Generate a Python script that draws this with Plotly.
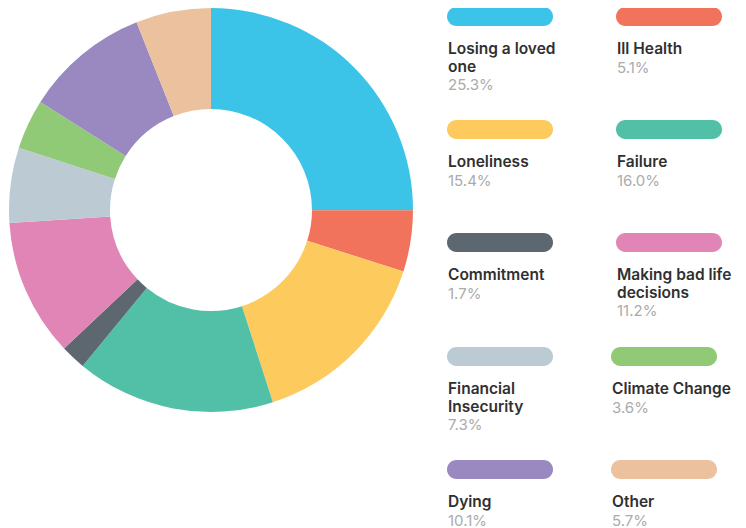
import plotly.graph_objects as go

W, H = 746, 528
OFF = 8  # page body margin

labels = ["Losing a loved one", "Ill Health", "Loneliness", "Failure", "Commitment",
          "Making bad life decisions", "Financial Insecurity", "Climate Change", "Dying", "Other"]
# slice shares as drawn in the doughnut
slice_values = [25.0, 4.9, 15.1, 15.9, 2.0, 11.0, 6.0, 4.0, 10.0, 6.0]
# percentages printed in the legend
legend_pct = [25.3, 5.1, 15.4, 16.0, 1.7, 11.2, 7.3, 3.6, 10.1, 5.7]
colors = ["#3cc3e8", "#f2735b", "#fdca5e", "#52c0a6", "#5c6770",
          "#e185b6", "#bbcad3", "#90ca76", "#9a89c0", "#ecc29e"]
legend_lines = [["Losing a loved", "one"], ["Ill Health"], ["Loneliness"], ["Failure"], ["Commitment"],
                ["Making bad life", "decisions"], ["Financial", "Insecurity"], ["Climate Change"],
                ["Dying"], ["Other"]]


def px(x):
    return (x - OFF) / W


def py(y):
    return 1 - (y - OFF) / H


fig = go.Figure(go.Pie(
    labels=labels, values=slice_values, sort=False, direction="clockwise", rotation=0,
    hole=0.5, marker=dict(colors=colors, line=dict(width=0)),
    textinfo="none", showlegend=False,
    domain=dict(x=[0, 406 / W], y=[1 - 404 / H, 1]),
))

shapes = []
annotations = []
row_tops = [7, 120, 233, 347, 460]
bar_h = 19
bar_w = 106
for i, (lines, val, col) in enumerate(zip(legend_lines, legend_pct, colors)):
    row, c = divmod(i, 2)
    top = row_tops[row]
    if c == 0:
        x0 = 447
    else:
        x0 = 616 if row < 3 else 611
    x1 = x0 + bar_w
    y0, y1 = top, top + bar_h
    r = bar_h / 2
    k = 0.5523 * r
    pts = [
        ("M", [(x0 + r, y0)]),
        ("L", [(x1 - r, y0)]),
        ("C", [(x1 - r + k, y0), (x1, y0 + r - k), (x1, y0 + r)]),
        ("C", [(x1, y0 + r + k), (x1 - r + k, y1), (x1 - r, y1)]),
        ("L", [(x0 + r, y1)]),
        ("C", [(x0 + r - k, y1), (x0, y0 + r + k), (x0, y0 + r)]),
        ("C", [(x0, y0 + r - k), (x0 + r - k, y0), (x0 + r, y0)]),
    ]
    path = ""
    for cmd, ps in pts:
        path += cmd + " " + " ".join(f"{px(a):.6f},{py(b):.6f}" for a, b in ps) + " "
    path += "Z"
    shapes.append(dict(type="path", xref="paper", yref="paper", path=path,
                       fillcolor=col, line=dict(width=0), layer="above"))
    base = top + 46
    for j, ln in enumerate(lines):
        b = base + j * 17.5
        annotations.append(dict(
            xref="paper", yref="paper", x=px(x0 - 1), y=py(b - 16),
            xanchor="left", yanchor="top", align="left", showarrow=False,
            text=ln,
            font=dict(family="Inter, sans-serif", size=15.5, color="#303030", weight=600),
        ))
    b = base + (len(lines) - 1) * 17.5 + 18.5
    annotations.append(dict(
        xref="paper", yref="paper", x=px(x0 - 1), y=py(b - 16),
        xanchor="left", yanchor="top", align="left", showarrow=False,
        text=f"{val:.1f}%",
        font=dict(family="Inter, sans-serif", size=15, color="#ababab"),
    ))

fig.update_layout(
    width=W, height=H, margin=dict(l=0, r=0, t=0, b=0),
    paper_bgcolor="white", plot_bgcolor="white",
    shapes=shapes, annotations=annotations,
)

fig.write_html("out.html")
